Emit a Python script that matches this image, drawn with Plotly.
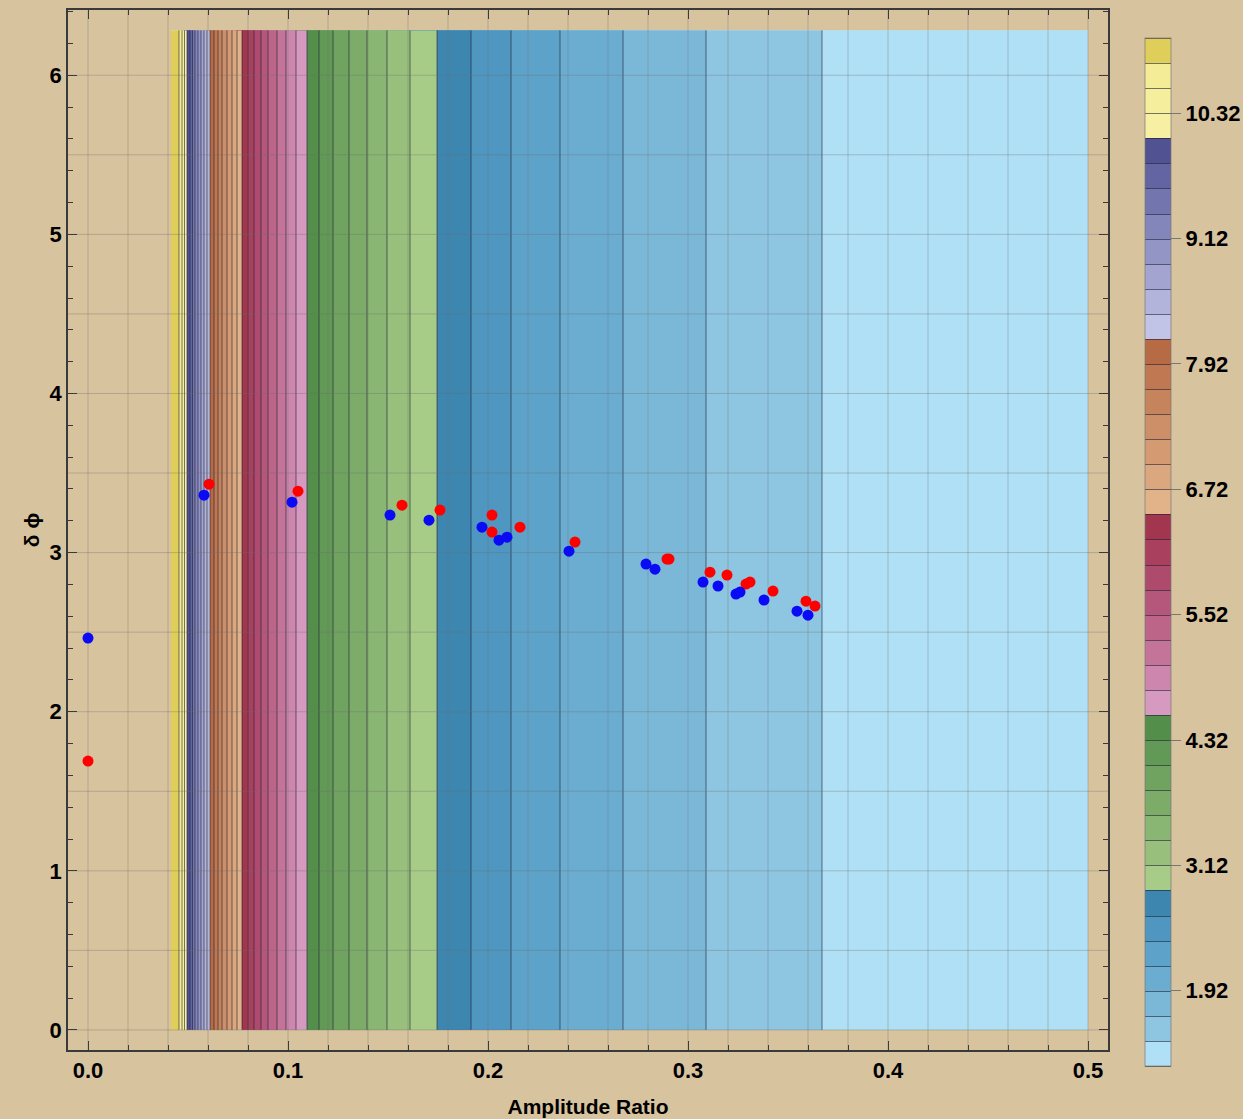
import plotly.graph_objects as go

# ---------------- data ----------------
# amplitude ratio at which each contour level is crossed (band edges), plus data edges
amp_ratio = [0.0415, 0.0455, 0.047, 0.04825, 0.0495, 0.051, 0.05225, 0.0535, 0.055,
             0.0565, 0.058, 0.0595, 0.061, 0.063, 0.065, 0.067, 0.0695, 0.072, 0.0745,
             0.077, 0.080, 0.083, 0.0865, 0.090, 0.0945, 0.099, 0.104, 0.1095, 0.1155,
             0.1225, 0.1305, 0.1395, 0.1495, 0.161, 0.1745, 0.1915, 0.2115, 0.236,
             0.2675, 0.309, 0.367, 0.5]
field_value = [11.03, 10.80, 10.56, 10.32, 10.08, 9.84, 9.60, 9.36, 9.12, 8.88, 8.64,
               8.40, 8.16, 7.92, 7.68, 7.44, 7.20, 6.96, 6.72, 6.48, 6.24, 6.00, 5.76,
               5.52, 5.28, 5.04, 4.80, 4.56, 4.32, 4.08, 3.84, 3.60, 3.36, 3.12, 2.88,
               2.64, 2.40, 2.16, 1.92, 1.68, 1.44, 1.22]
phase_edges = [0.0, 6.2832]

level_start, level_end, level_step = 1.20, 11.04, 0.24

band_colors = [
    # blues (1.20 -> 2.88)
    "#B0E0F5", "#8EC6E2", "#7BB8D8", "#6AADD1", "#5DA2C9", "#4F96C0", "#3D86B0",
    # greens (2.88 -> 4.56)
    "#A7CC88", "#98C07C", "#89B672", "#7CAC68", "#6FA35F", "#629956", "#548E4B",
    # pinks / reds (4.56 -> 6.48)
    "#D699BF", "#CD86AD", "#C47498", "#BC6589", "#B4577A", "#AE4B6C", "#A8405E", "#A2364F",
    # browns (6.48 -> 8.16)
    "#E2B389", "#DBA77E", "#D49B72", "#CD8F67", "#C6845C", "#BF7852", "#B66B45",
    # purples (8.16 -> 10.08)
    "#C2C4E7", "#B2B4DB", "#A3A5D0", "#9395C5", "#8386BA", "#7275AE", "#6265A2", "#505292",
    # yellows (10.08 -> 11.04)
    "#F7F0A2", "#F5EE9C", "#F4EC97", "#DFCE5A",
]

cbar_ticks = [1.92, 3.12, 4.32, 5.52, 6.72, 7.92, 9.12, 10.32]

blue_x = [0.0, 0.058, 0.102, 0.151, 0.1705, 0.197, 0.2055, 0.2095, 0.2405, 0.279,
          0.2835, 0.3075, 0.315, 0.324, 0.326, 0.338, 0.3545, 0.360]
blue_y = [2.463, 3.361, 3.317, 3.236, 3.204, 3.160, 3.078, 3.097, 3.009, 2.928,
          2.896, 2.815, 2.790, 2.739, 2.752, 2.702, 2.632, 2.607]
red_x = [0.0, 0.0605, 0.105, 0.157, 0.176, 0.202, 0.202, 0.216, 0.2435, 0.2895,
         0.2905, 0.311, 0.3195, 0.329, 0.331, 0.3425, 0.359, 0.3635]
red_y = [1.690, 3.430, 3.386, 3.298, 3.267, 3.236, 3.129, 3.160, 3.066, 2.959,
         2.959, 2.877, 2.859, 2.802, 2.815, 2.758, 2.695, 2.664]

x_major = [0.0, 0.1, 0.2, 0.3, 0.4, 0.5]
x_major_text = ["0.0", "0.1", "0.2", "0.3", "0.4", "0.5"]
y_major = [0, 1, 2, 3, 4, 5, 6]
grid_x = [round(0.02 * i, 2) for i in range(26)]
grid_y = [0.5 * i for i in range(13)]

# ---------------- styling ----------------
PAPER = "#D8C39F"
FONT = "Liberation Sans"
n_bands = len(band_colors)  # 41
cs = []
for k, c in enumerate(band_colors):
    cs.append([k / n_bands, c])
    cs.append([(k + 1) / n_bands, c])

fig = go.Figure()

fig.add_trace(go.Contour(
    x=amp_ratio, y=phase_edges, z=[field_value, field_value],
    zmin=level_start, zmax=level_end, zauto=False,
    contours=dict(start=level_start, end=level_end, size=level_step,
                  coloring="fill", showlines=True),
    line=dict(color="rgba(30,30,50,0.6)", width=1, smoothing=0),
    colorscale=cs,
    hoverinfo="skip",
    colorbar=dict(
        x=(1145 - 68) / 1040, xanchor="left", xpad=0,
        y=(1050 - 552) / 1040, yanchor="middle", ypad=0,
        lenmode="pixels", len=1028,
        thickness=26, outlinewidth=1, outlinecolor="rgba(120,120,120,0.7)",
        tickmode="array", tickvals=cbar_ticks,
        ticktext=[f"{v:.2f}" for v in cbar_ticks],
        ticks="outside", ticklen=10, tickcolor="#777", tickwidth=1,
        tickfont=dict(family=FONT, size=22, color="black", weight="bold"),
    ),
))

# grid lines (drawn over the filled contours)
gx, gy = [], []
for v in grid_x:
    gx += [v, v, None]
    gy += [-0.126, 6.41, None]
for v in grid_y:
    gx += [-0.01, 0.51, None]
    gy += [v, v, None]
fig.add_trace(go.Scatter(x=gx, y=gy, mode="lines",
                         line=dict(color="rgba(110,110,110,0.35)", width=1),
                         hoverinfo="skip", showlegend=False))

fig.add_trace(go.Scatter(x=red_x, y=red_y, mode="markers",
                         marker=dict(color="#FF0000", size=11), showlegend=False))
fig.add_trace(go.Scatter(x=blue_x, y=blue_y, mode="markers",
                         marker=dict(color="#0A0AF5", size=11), showlegend=False))

axis_common = dict(showline=True, linecolor="#3A3A3A", linewidth=1.5, mirror="ticks",
                   ticks="inside", ticklen=9, tickwidth=1, tickcolor="#3A3A3A",
                   showgrid=False, zeroline=False,
                   tickfont=dict(family=FONT, size=22, color="black", weight="bold"))

fig.update_xaxes(range=[-0.01, 0.51], tickmode="array", tickvals=x_major,
                 ticktext=x_major_text,
                 minor=dict(dtick=0.02, tick0=0, ticks="inside", ticklen=5,
                            tickcolor="#3A3A3A", showgrid=False),
                 title=dict(text="Amplitude Ratio", standoff=17,
                            font=dict(family=FONT, size=21, color="black", weight="bold")),
                 **axis_common)
fig.update_yaxes(range=[-0.126, 6.41], tickmode="array", tickvals=y_major,
                 minor=dict(dtick=0.2, tick0=0, ticks="inside", ticklen=5,
                            tickcolor="#3A3A3A", showgrid=False),
                 title=dict(text="δ ϕ", standoff=4,
                            font=dict(family=FONT, size=21, color="black", weight="bold")),
                 **axis_common)

fig.update_layout(width=1243, height=1119,
                  margin=dict(l=68, r=135, t=10, b=69, autoexpand=False),
                  paper_bgcolor=PAPER, plot_bgcolor=PAPER,
                  showlegend=False,
                  font=dict(family=FONT, size=21, color="black"))

fig.write_html("out.html")
